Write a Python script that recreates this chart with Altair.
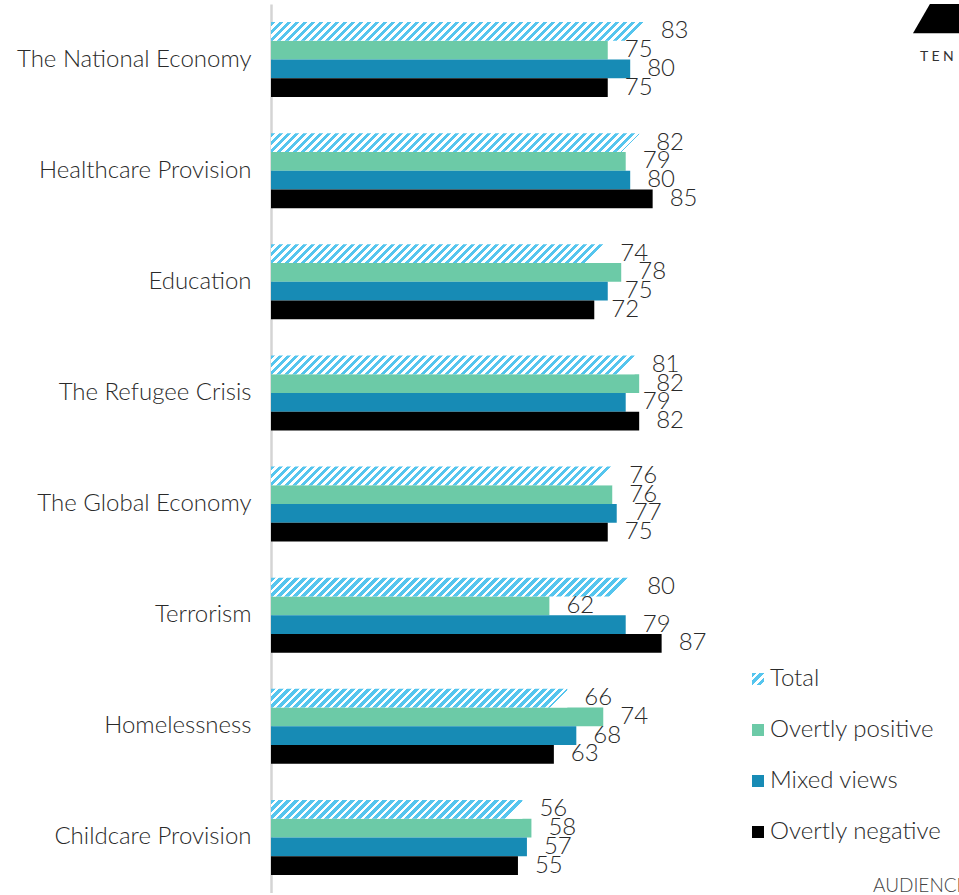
import altair as alt
import pandas as pd

categories = ["The National Economy", "Healthcare Provision", "Education",
              "The Refugee Crisis", "The Global Economy", "Terrorism",
              "Homelessness", "Childcare Provision"]
series = ["Total", "Overtly positive", "Mixed views", "Overtly negative"]
total = [83, 82, 74, 81, 76, 80, 66, 56]
overtly_positive = [75, 79, 78, 82, 76, 62, 74, 58]
mixed_views = [80, 80, 75, 79, 77, 79, 68, 57]
overtly_negative = [75, 85, 72, 82, 75, 87, 63, 55]

FONT = "Lato"
WEIGHT = 300
FS = 24
TXT = "#2a2a2a"
HATCH = "#55c5ee"
colors = ["#ffffff", "#6ccaa7", "#178bb5", "#000000"]

W = 449
H = 889
PAD_IN = 0.325

rows = []
for i, c in enumerate(categories):
    for s, vals in zip(series, [total, overtly_positive, mixed_views, overtly_negative]):
        rows.append({"category": c, "series": s, "value": vals[i]})
df = pd.DataFrame(rows)


def hatch(w_px, h_px, period=8.0, duty=0.55, color=HATCH):
    span = w_px + h_px * h_px / w_px
    P = period / span
    stops = []
    k = 0
    while k * P < 1:
        a = round(k * P, 5)
        b = round(min(k * P + P * duty, 1), 5)
        c = round(min(k * P + P, 1), 5)
        stops += [{"offset": a, "color": color}, {"offset": b, "color": color},
                  {"offset": b, "color": "#ffffff"}, {"offset": c, "color": "#ffffff"}]
        k += 1
    return {"gradient": "linear", "x1": 0, "y1": 0, "x2": 1,
            "y2": round(h_px / w_px, 5), "stops": stops}


step = H / len(categories)
bar_h = step * (1 - PAD_IN) / len(series)

y_enc = alt.Y("category:N", sort=categories,
              scale=alt.Scale(domain=categories, paddingInner=PAD_IN, paddingOuter=PAD_IN / 2),
              axis=alt.Axis(title=None, ticks=False, domainColor="#d4d4d4", domainWidth=2.5,
                            labelFont=FONT, labelFontSize=FS, labelFontWeight=WEIGHT,
                            labelColor=TXT, labelPadding=20, minExtent=266, maxExtent=266,
                            labelLimit=0))
yoff = alt.YOffset("series:N", sort=series,
                   scale=alt.Scale(domain=series, paddingInner=0, paddingOuter=0))
x_enc = alt.X("value:Q", scale=alt.Scale(domain=[0, 100]), axis=None)
col = alt.Color("series:N", scale=alt.Scale(domain=series, range=colors), legend=None)

solid = alt.Chart(df[df.series != "Total"]).mark_bar(opacity=1).encode(
    x=x_enc, y=y_enc, yOffset=yoff, color=col)

layers = [solid]
for c, v in zip(categories, total):
    w_px = v / 100 * W
    layers.append(
        alt.Chart(df[(df.series == "Total") & (df.category == c)]).mark_bar(
            fill=hatch(w_px, bar_h), opacity=1).encode(x=x_enc, y=y_enc, yOffset=yoff))

labels = alt.Chart(df).mark_text(align="left", baseline="middle", dx=17, font=FONT,
                                 fontSize=FS, fontWeight=WEIGHT, color=TXT).encode(
    x=x_enc, y=y_enc, yOffset=yoff, text="value:Q")
layers.append(labels)

main = alt.layer(*layers).properties(width=W, height=H)

# legend panel
leg = pd.DataFrame({"series": series})
ly = alt.Y("series:N", sort=series,
           scale=alt.Scale(domain=series, type="point", range=[675, 828], padding=0),
           axis=None)
leg_sq = alt.Chart(leg[leg.series != "Total"]).mark_square(size=144, opacity=1).encode(
    x=alt.value(13), y=ly, color=col)
leg_hatch = alt.Chart(leg[leg.series == "Total"]).mark_square(
    size=144, opacity=1, fill=hatch(12, 12, period=8, duty=0.55)).encode(x=alt.value(13), y=ly)
leg_txt = alt.Chart(leg).mark_text(align="left", baseline="middle", font=FONT, fontSize=FS,
                                   fontWeight=WEIGHT, color=TXT).encode(
    x=alt.value(25), y=ly, text="series:N")

logo_df = pd.DataFrame({"k": [0]})
tri = alt.Chart(logo_df).mark_point(shape="triangle-up", size=10000, filled=True,
                                    color="#000000", opacity=1, clip=True).encode(
    x=alt.value(218), y=alt.value(-14))
ten = alt.Chart(logo_df).mark_text(text="T E N", align="left", baseline="middle", font=FONT,
                                   fontSize=14, color="#333333", clip=True).encode(
    x=alt.value(175), y=alt.value(53))
aud = alt.Chart(logo_df).mark_text(text="AUDIENCE", align="left", baseline="middle",
                                   font=FONT, fontSize=19, fontWeight=WEIGHT,
                                   color="#444444", clip=True).encode(
    x=alt.value(128), y=alt.value(882))

legend = alt.layer(leg_sq, leg_hatch, leg_txt, tri, ten, aud).properties(width=214, height=H)

chart = alt.hconcat(main, legend, spacing=25).properties(
    padding={"left": 5, "top": 4, "right": 0, "bottom": 0}
).configure_view(stroke=None)

chart.save("out.html", embed_options={"renderer": "svg", "actions": False})
